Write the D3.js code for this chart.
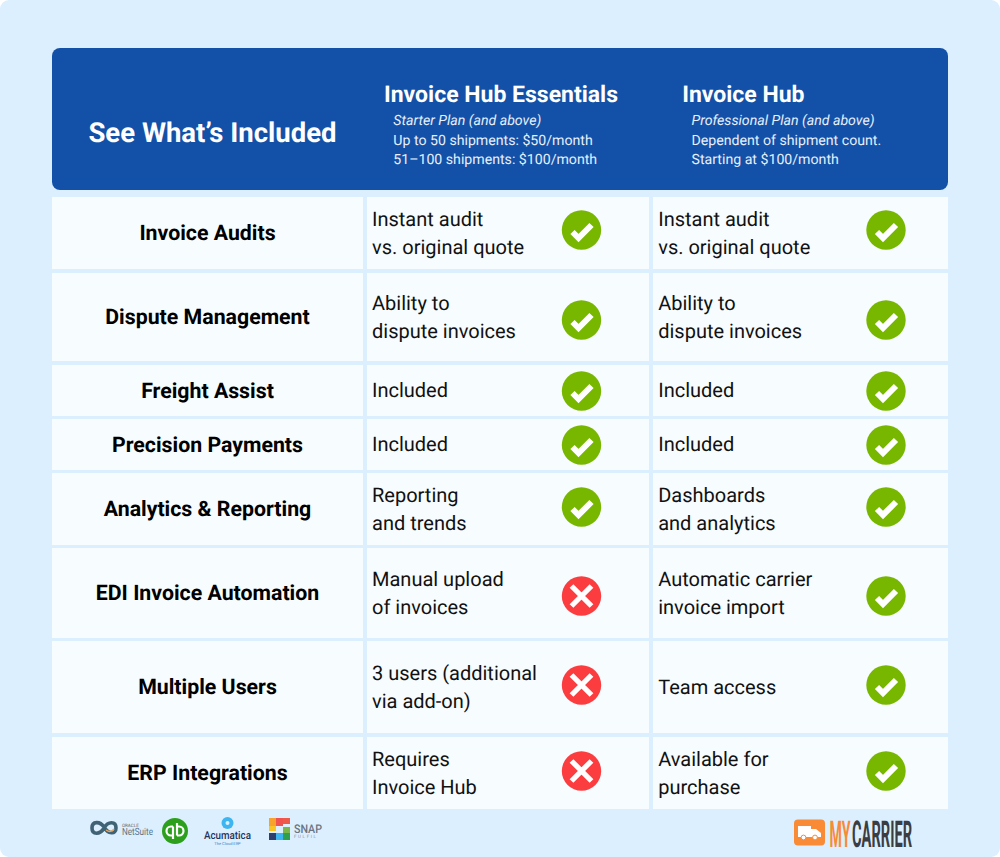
<!DOCTYPE html>
<html>
<head>
<meta charset="utf-8">
<script src="https://cdn.jsdelivr.net/npm/d3@7"></script>
<style>
html, body { margin: 0; padding: 0; background: #fff; }
svg { display: block; font-family: Roboto, sans-serif; text-rendering: geometricPrecision; }
</style>
</head>
<body>
<svg id="chart" width="1000" height="857"></svg>
<script>
// table content
var features = ["Invoice Audits", "Dispute Management", "Freight Assist", "Precision Payments",
	"Analytics & Reporting", "EDI Invoice Automation", "Multiple Users", "ERP Integrations"];
var essentialsText = [["Instant audit", "vs. original quote"], ["Ability to", "dispute invoices"], ["Included"], ["Included"],
	["Reporting", "and trends"], ["Manual upload", "of invoices"], ["3 users (additional", "via add-on)"], ["Requires", "Invoice Hub"]];
var hubText = [["Instant audit", "vs. original quote"], ["Ability to", "dispute invoices"], ["Included"], ["Included"],
	["Dashboards", "and analytics"], ["Automatic carrier", "invoice import"], ["Team access"], ["Available for", "purchase"]];
var essentialsIncluded = [1, 1, 1, 1, 1, 0, 0, 0];
var hubIncluded = [1, 1, 1, 1, 1, 1, 1, 1];
var title = "See What\u2019s Included";
var planNames = ["Invoice Hub Essentials", "Invoice Hub"];
var planLines = [["Starter Plan (and above)", "Up to 50 shipments: $50/month", "51\u2013100 shipments: $100/month"],
	["Professional Plan (and above)", "Dependent of shipment count.", "Starting at $100/month"]];

// layout
var rowTops = [197, 273, 365, 419, 473, 548, 641, 737];
var rowBottoms = [269, 361, 416, 470, 545, 638, 733, 809];
var iconY = [230, 320, 391, 445, 507, 596, 685, 771];
var cols = [{x: 52, w: 311}, {x: 367, w: 282}, {x: 653, w: 295}];
var iconX = [581.5, 886];

var svg = d3.select("#chart");

// page background with rounded corners
svg.append("rect").attr("width", 1000).attr("height", 857).attr("rx", 9).attr("fill", "#dcefff");

// header band
svg.append("rect").attr("x", 52).attr("y", 48).attr("width", 896).attr("height", 142).attr("rx", 8).attr("fill", "#1351a8");
svg.append("text").attr("x", 212.5).attr("y", 142).attr("text-anchor", "middle")
	.attr("font-size", 27.5).attr("font-weight", 700).attr("fill", "#fff").text(title);

var headG = svg.append("g").selectAll("g").data(planNames).enter().append("g")
	.attr("transform", function(d, i){
		return "translate(" + [384, 682.2][i] + ",0)";
	});
headG.append("text").attr("y", 101.5).attr("font-size", 23).attr("font-weight", 700).attr("fill", "#fff")
	.text(function(d){ return d; });
headG.each(function(d, i){
	d3.select(this).selectAll(".sub").data(planLines[i]).enter().append("text")
		.attr("class", "sub")
		.attr("x", 9.3)
		.attr("y", function(t, j){ return 125 + j * 19.5; })
		.attr("font-size", 14.15)
		.attr("font-style", function(t, j){ return j == 0 ? "italic" : "normal"; })
		.attr("fill", "#e6effa")
		.text(function(t){ return t; });
});

// rows
var rows = svg.append("g").selectAll("g").data(features).enter().append("g");
cols.forEach(function(c){
	rows.append("rect").attr("x", c.x).attr("width", c.w)
		.attr("y", function(d, i){ return rowTops[i]; })
		.attr("height", function(d, i){ return rowBottoms[i] - rowTops[i]; })
		.attr("fill", "#f7fcff");
});
function rowMid(i){
	return (rowTops[i] + rowBottoms[i]) / 2;
}
rows.append("text").attr("x", 207.5).attr("y", function(d, i){ return rowMid(i) + 7; })
	.attr("text-anchor", "middle").attr("font-size", 21.3).attr("font-weight", 700).attr("fill", "#000")
	.text(function(d){ return d; });

function drawCellText(data, x){
	rows.each(function(d, i){
		var lines = data[i];
		d3.select(this).selectAll(null).data(lines).enter().append("text")
			.attr("x", x)
			.attr("y", function(t, j){ return rowMid(i) + 6.8 + (j - (lines.length - 1) / 2) * 28; })
			.attr("font-size", 20).attr("fill", "#111")
			.text(function(t){ return t; });
	});
}
drawCellText(essentialsText, 372);
drawCellText(hubText, 658.2);

function drawIcons(data, x){
	var icons = rows.append("g").attr("transform", function(d, i){
		return "translate(" + x + "," + iconY[i] + ")";
	});
	icons.append("circle").attr("r", 19.7).attr("fill", function(d, i){
		return data[i] ? "#78b700" : "#fb3d40";
	});
	icons.append("path")
		.attr("d", function(d, i){
			return data[i] ? "M-9,2 L-3,8 L10,-5" : "M-10,-10 L10,10 M10,-10 L-10,10";
		})
		.attr("fill", "none").attr("stroke", "#fff").attr("stroke-width", function(d, i){
			return data[i] ? 6 : 5.3;
		});
}
drawIcons(essentialsIncluded, iconX[0]);
drawIcons(hubIncluded, iconX[1]);

// partner logos
var logos = svg.append("g");
// netsuite
logos.append("path").attr("d", "M92,828 C92,821 100,821 104,827 C108,834 116,835 116,828 C116,821 108,821 104,828 C100,835 92,835 92,828 Z")
	.attr("fill", "none").attr("stroke", "#3f6274").attr("stroke-width", 3.6);
logos.append("path").attr("d", "M106,830 C109,832 112,832 114,829").attr("fill", "none").attr("stroke", "#e9a65c").attr("stroke-width", 1.5);
logos.append("text").attr("x", 122).attr("y", 826.5).attr("font-size", 4.5).attr("fill", "#666").text("ORACLE");
logos.append("text").attr("x", 122).attr("y", 835).attr("font-size", 10).attr("textLength", 31).attr("lengthAdjust", "spacingAndGlyphs")
	.attr("fill", "#5b7483").text("NetSuite");
// quickbooks
logos.append("circle").attr("cx", 175).attr("cy", 831).attr("r", 13).attr("fill", "#2ca01c");
logos.append("path").attr("d", "M173,826.5 H171 A4.5,4.5 0 0 0 171,835.5 H172 M173,826.5 V839 M177,835.5 H179 A4.5,4.5 0 0 0 179,826.5 H178 M177,823 V835.5")
	.attr("fill", "none").attr("stroke", "#fff").attr("stroke-width", 2.2);
// acumatica
logos.append("circle").attr("cx", 227.5).attr("cy", 823).attr("r", 6).attr("fill", "#3db5f0");
logos.append("circle").attr("cx", 227.5).attr("cy", 823).attr("r", 2).attr("fill", "#dcefff");
logos.append("text").attr("x", 227.5).attr("y", 839).attr("text-anchor", "middle").attr("font-size", 11).attr("font-weight", 500)
	.attr("textLength", 47).attr("lengthAdjust", "spacingAndGlyphs").attr("fill", "#24335c").text("Acumatica");
logos.append("text").attr("x", 227.5).attr("y", 845).attr("text-anchor", "middle").attr("font-size", 4).attr("fill", "#3b82c4").text("The Cloud ERP");
// snap fulfil, an S built from coloured blocks
var snapX = [269, 276, 283];
var snapBlocks = [[0, 818, 8, "#f7a12f"], [1, 818, 8, "#f0524f"], [2, 818, 6, "#ee5a4a"], [0, 826, 5, "#f7c325"],
	[2, 827, 6, "#7ab648"], [0, 833, 7, "#2f3f6c"], [1, 833, 7, "#3db5f0"], [2, 833, 7, "#2e9e4f"]];
logos.selectAll(".snap").data(snapBlocks).enter().append("rect").attr("class", "snap")
	.attr("x", function(d){ return snapX[d[0]]; }).attr("y", function(d){ return d[1]; })
	.attr("width", 7).attr("height", function(d){ return d[2]; }).attr("fill", function(d){ return d[3]; });
logos.append("text").attr("x", 294).attr("y", 832.5).attr("font-size", 12).attr("font-weight", 500).attr("textLength", 28).attr("lengthAdjust", "spacingAndGlyphs").attr("fill", "#6b7580").text("SNAP");
logos.append("text").attr("x", 294).attr("y", 838).attr("font-size", 4.5).attr("letter-spacing", 1.6).attr("fill", "#8a939c").text("FULFIL");

// mycarrier logo, tall condensed letters come from a small font squeezed to the measured width
svg.append("rect").attr("x", 794).attr("y", 819.5).attr("width", 31).attr("height", 26).attr("rx", 4).attr("fill", "#f98a36");
svg.append("path").attr("d", "M798,826 H811 V829 H816 L821,833 V837 H798 Z").attr("fill", "#fff");
svg.append("circle").attr("cx", 803.5).attr("cy", 837.5).attr("r", 2.4).attr("fill", "#fff").attr("stroke", "#f98a36");
svg.append("circle").attr("cx", 815).attr("cy", 837.5).attr("r", 2.4).attr("fill", "#fff").attr("stroke", "#f98a36");
var brand = [{t: "MY", x: 829.5, w: 21, c: "#f98a36"}, {t: "CARRIER", x: 852, w: 60, c: "#3a3d42"}];
svg.selectAll(".brand").data(brand).enter().append("text").attr("class", "brand")
	.attr("font-family", "'Liberation Sans Narrow', Roboto").attr("font-size", 19.5).attr("font-weight", 700)
	.attr("fill", function(d){ return d.c; })
	.text(function(d){ return d.t; })
	.attr("transform", function(d){
		var sx = d.w / this.getComputedTextLength();
		return "translate(" + d.x + ",846.5) scale(" + sx + ",1.9)";
	});
</script>
</body>
</html>
